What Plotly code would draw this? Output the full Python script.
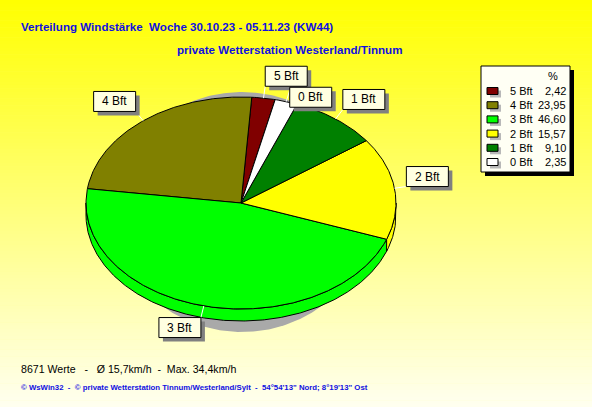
import numpy as np
import plotly.graph_objects as go

# ---------------- data ----------------
categories = ["5 Bft", "4 Bft", "3 Bft", "2 Bft", "1 Bft", "0 Bft"]
percent = [2.42, 23.95, 46.60, 15.57, 9.10, 2.35]
colors = ["#800000", "#808000", "#00ff00", "#ffff00", "#008000", "#ffffff"]
title_line1 = "Verteilung Windstärke  Woche 30.10.23 - 05.11.23 (KW44)"
title_line2 = "private Wetterstation Westerland/Tinnum"
stats_text = "8671 Werte   -   Ø 15,7km/h  -  Max. 34,4km/h"
footer_text = "© WsWin32  -  © private Wetterstation Tinnum/Westerland/Sylt  -  54°54'13\" Nord; 8°19'13\" Ost"

# ---------------- geometry / style ----------------
W, H = 592, 407
CX, CY, RX, RY, DEPTH = 241, 203, 155, 106, 12
START = 77.3          # start angle (deg, counter-clockwise)
FONT = "Liberation Sans, Arial, sans-serif"
BLUE = "#1010e0"


def pt(t_deg, dz=0.0):
    t = np.radians(t_deg)
    return CX + RX * np.cos(t), CY - RY * np.sin(t) + dz


fig = go.Figure()
shapes = []
annotations = []

# background gradient
n_strips = 120
for i in range(n_strips):
    y0 = H * i / n_strips
    y1 = H * (i + 1) / n_strips + 0.5
    b = int(round(0 + 240 * ((i + 0.5) / n_strips)))
    shapes.append(dict(type="rect", xref="x", yref="y", x0=0, x1=W, y0=y0, y1=y1,
                       fillcolor=f"rgb(255,255,{b})", line=dict(width=0), layer="below"))

# shadow
ts = np.linspace(0, 360, 361)
sx = 242 + 128 * np.cos(np.radians(ts))
sy = 212 - 120 * np.sin(np.radians(ts))
fig.add_trace(go.Scatter(x=sx, y=sy, mode="lines", fill="toself", fillcolor="#a9a9a9",
                         line=dict(width=0), hoverinfo="skip", showlegend=False))

# slice angles from data
cum = np.concatenate([[0], np.cumsum(percent)])
angles = [(START + cum[i] * 3.6, START + cum[i + 1] * 3.6) for i in range(len(percent))]

# side walls (front half)
for (a0, a1), col in zip(angles, colors):
    for k in (-360, 0, 360):
        lo = max(a0 + k, 180)
        hi = min(a1 + k, 360)
        if hi > lo:
            tt = np.linspace(lo, hi, max(2, int((hi - lo) * 2)))
            xt, yt = pt(tt)
            xb, yb = pt(tt[::-1], DEPTH)
            xs = np.concatenate([xt, xb, xt[:1]])
            ys = np.concatenate([yt, yb, yt[:1]])
            fig.add_trace(go.Scatter(x=xs, y=ys, mode="lines", fill="toself", fillcolor=col,
                                     line=dict(color="black", width=1), hoverinfo="skip",
                                     showlegend=False))

# top faces
for (a0, a1), col in zip(angles, colors):
    tt = np.linspace(a0, a1, max(2, int((a1 - a0) * 2)))
    xa, ya = pt(tt)
    xs = np.concatenate([[CX], xa, [CX]])
    ys = np.concatenate([[CY], ya, [CY]])
    fig.add_trace(go.Scatter(x=xs, y=ys, mode="lines", fill="toself", fillcolor=col,
                             line=dict(color="black", width=1), hoverinfo="skip",
                             showlegend=False))

# labels with boxes
BW, BH = 42, 20
placed = []
for (a0, a1), lab in zip(angles, categories):
    m = (a0 + a1) / 2
    c, s = np.cos(np.radians(m)), np.sin(np.radians(m))
    ex, ey = pt(m)
    ax_, ay_ = ex + 12 * c, ey - 12 * s
    if c >= 0:
        bx0, bx1 = ax_, ax_ + BW
    else:
        bx0, bx1 = ax_ - BW, ax_
    if s >= 0:
        by0, by1 = ay_ - BH, ay_
    else:
        by0, by1 = ay_, ay_ + BH
    # simple collision avoidance: push down below an overlapping box
    moved = True
    while moved:
        moved = False
        for (px0, px1, py0, py1) in placed:
            if bx0 < px1 and bx1 > px0 and by0 < py1 and by1 > py0:
                by0, by1 = py1 + 1, py1 + 1 + BH
                moved = True
    placed.append((bx0, bx1, by0, by1))
    shapes.append(dict(type="line", xref="x", yref="y", x0=ex, y0=ey, x1=ax_, y1=ay_,
                       line=dict(color="white", width=1), layer="above"))
    shapes.append(dict(type="rect", xref="x", yref="y", x0=bx0 + 4, x1=bx1 + 4,
                       y0=by0 + 4, y1=by1 + 4, fillcolor="#808080",
                       line=dict(width=0), layer="above"))
    shapes.append(dict(type="rect", xref="x", yref="y", x0=bx0, x1=bx1, y0=by0, y1=by1,
                       fillcolor="#ffffe1", line=dict(color="black", width=1), layer="above"))
    annotations.append(dict(x=(bx0 + bx1) / 2, y=(by0 + by1) / 2, xref="x", yref="y",
                            text=lab, showarrow=False, xanchor="center", yanchor="middle",
                            font=dict(family=FONT, size=12, color="black")))

# legend box
LX0, LX1, LY0, LY1 = 481, 570, 66, 172
shapes.append(dict(type="rect", xref="x", yref="y", x0=LX0 + 4, x1=LX1 + 4, y0=LY0 + 4,
                   y1=LY1 + 4, fillcolor="black", line=dict(width=0), layer="above"))
shapes.append(dict(type="rect", xref="x", yref="y", x0=LX0, x1=LX1, y0=LY0, y1=LY1,
                   fillcolor="#fffff4", line=dict(color="black", width=1), layer="above"))
annotations.append(dict(x=553, y=76, xref="x", yref="y", text="%", showarrow=False,
                        xanchor="center", yanchor="middle",
                        font=dict(family=FONT, size=11, color="black")))
for i, (lab, val, col) in enumerate(zip(categories, percent, colors)):
    ry = 91 + i * 14.2
    shapes.append(dict(type="rect", xref="x", yref="y", x0=490, x1=501, y0=ry - 0.5,
                       y1=ry + 6.5, fillcolor="#b8b8b8", line=dict(width=0), layer="above"))
    shapes.append(dict(type="rect", xref="x", yref="y", x0=487, x1=498, y0=ry - 3.5,
                       y1=ry + 3.5, fillcolor=col, line=dict(color="black", width=1),
                       layer="above"))
    annotations.append(dict(x=508, y=ry, xref="x", yref="y", text=lab, showarrow=False,
                            xanchor="left", yanchor="middle",
                            font=dict(family=FONT, size=11, color="black")))
    annotations.append(dict(x=568, y=ry, xref="x", yref="y",
                            text=f"{val:.2f}".replace(".", ","), showarrow=False,
                            xanchor="right", yanchor="middle",
                            font=dict(family=FONT, size=11, color="black")))

# titles and footer
annotations.append(dict(x=19, y=26, xref="x", yref="y", text=f"<b>{title_line1}</b>",
                        showarrow=False, xanchor="left", yanchor="middle",
                        font=dict(family=FONT, size=11.6, color=BLUE)))
annotations.append(dict(x=175, y=49, xref="x", yref="y", text=f"<b>{title_line2}</b>",
                        showarrow=False, xanchor="left", yanchor="middle",
                        font=dict(family=FONT, size=11.6, color=BLUE)))
annotations.append(dict(x=19, y=369, xref="x", yref="y", text=stats_text,
                        showarrow=False, xanchor="left", yanchor="middle",
                        font=dict(family=FONT, size=10.6, color="black")))
annotations.append(dict(x=19, y=387, xref="x", yref="y", text=f"<b>{footer_text}</b>",
                        showarrow=False, xanchor="left", yanchor="middle",
                        font=dict(family=FONT, size=7.8, color=BLUE)))

fig.update_layout(
    width=W, height=H,
    margin=dict(l=0, r=0, t=0, b=0),
    paper_bgcolor="#ffff80", plot_bgcolor="rgba(0,0,0,0)",
    xaxis=dict(range=[0, W], visible=False, fixedrange=True),
    yaxis=dict(range=[H, 0], visible=False, fixedrange=True),
    shapes=shapes, annotations=annotations, showlegend=False,
)

fig.write_html("out.html", config={"displayModeBar": False},
               post_script="document.body.style.margin='0';document.body.style.overflow='hidden';")
